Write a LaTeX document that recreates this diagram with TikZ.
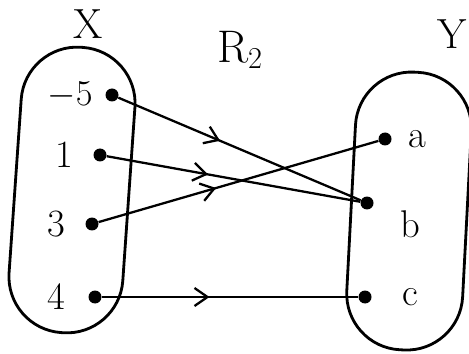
\documentclass[tikz,border=0pt]{standalone}
\usetikzlibrary{positioning,arrows.meta,decorations.markings}
\tikzset{
  setline/.style={line width=1.6pt,draw=black,rounded corners=1.12cm},
  dot/.style={circle,fill=black,inner sep=0pt,minimum size=2.6mm},
  elem/.style={font=\fontsize{22}{24}\selectfont,inner sep=1pt},
  setname/.style={font=\fontsize{24}{26}\selectfont},
  relflow/.style={line width=1.3pt,draw=black,postaction={decorate},
    decoration={markings,mark=at position #1 with {\arrow{Straight Barb[length=2.6mm,width=3.6mm,line width=1.3pt]}}}},
  relflow/.default=0.5
}

\begin{document}
\begin{tikzpicture}[x=0.02cm,y=-0.02cm]
  \useasboundingbox (0,0) rectangle (469,354);
  % the two sets
  \draw[setline,rotate around={-4:(72,190)}] (15,47) rectangle (129,333);
  \draw[setline,rotate around={-3:(408,212)}] (351,72) rectangle (467,350);
  \node[setname] (X) at (88,24) {X};
  \node[setname] (Y) at (452,34) {Y};
  \node[elem,font=\fontsize{26}{28}\selectfont] (rel) at (240,50) {R$_{\mathrm{2}}$};
  % elements of X
  \node[dot] (m5) at (112,95) {};
  \node[dot] (one) at (100,155) {};
  \node[dot] (three) at (92,224) {};
  \node[dot] (four) at (95,297) {};
  \node[elem,left=6pt of m5] {$-5$};
  \node[elem,left=10pt of one] {1};
  \node[elem,left=10pt of three] {3};
  \node[elem,left=12pt of four] {4};
  % elements of Y
  \node[dot] (a) at (385,139) {};
  \node[dot] (b) at (367,203) {};
  \node[dot] (c) at (365,297) {};
  \node[elem,right=8pt of a] {a};
  \node[elem,right=14pt of b,yshift=-12pt] {b};
  \node[elem,right=16pt of c] {c};
  % relation
  \draw[relflow=0.42] (m5) -- (b);
  \draw[relflow=0.4] (one) -- (b);
  \draw[relflow=0.42] (three) -- (a);
  \draw[relflow=0.42] (four) -- (c);
\end{tikzpicture}
\end{document}
